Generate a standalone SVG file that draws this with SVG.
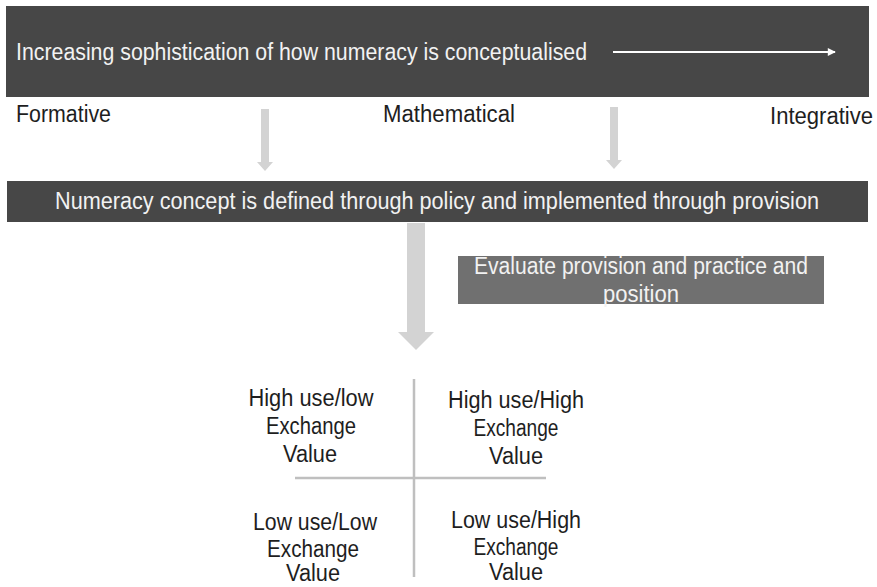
<svg xmlns="http://www.w3.org/2000/svg" width="877" height="587" viewBox="0 0 877 587">
<defs>
<style>
text{font-family:"Liberation Sans",Arial,sans-serif;font-size:23px;}
.dark{fill:#474747;}
.mid{fill:#707070;}
.wt{fill:#f2f2f2;}
.bt{fill:#1e1e1e;}
.mc{text-anchor:middle;}
.garrow{fill:#d3d3d3;}
.qline{stroke:#bfbfbf;stroke-width:2.5;fill:none;}
</style>
<marker id="wh" viewBox="0 0 10 10" refX="9" refY="5" markerWidth="5" markerHeight="4" orient="auto" markerUnits="strokeWidth">
<path d="M0,0 L10,5 L0,10 z" fill="#ffffff"/>
</marker>
</defs>
<rect width="877" height="587" fill="#ffffff"/>

<g id="top-box">
<rect class="dark" x="6" y="6" width="863" height="91"/>
<text class="wt" x="16" y="60" textLength="571" lengthAdjust="spacingAndGlyphs">Increasing sophistication of how numeracy is conceptualised</text>
</g>

<g id="label-formative">
<text class="bt" x="16" y="122" textLength="95" lengthAdjust="spacingAndGlyphs">Formative</text>
</g>
<g id="label-mathematical">
<text class="bt" x="383" y="122" textLength="132" lengthAdjust="spacingAndGlyphs">Mathematical</text>
</g>
<g id="label-integrative">
<text class="bt" x="770" y="124" textLength="103" lengthAdjust="spacingAndGlyphs">Integrative</text>
</g>

<g id="policy-box">
<rect class="dark" x="7" y="181" width="861" height="41"/>
<text class="wt mc" x="437" y="209" textLength="764" lengthAdjust="spacingAndGlyphs">Numeracy concept is defined through policy and implemented through provision</text>
</g>

<g id="evaluate-box">
<rect class="mid" x="458" y="256" width="366" height="48"/>
<text class="wt mc" x="641" y="274" textLength="334" lengthAdjust="spacingAndGlyphs">Evaluate provision and practice and</text>
<text class="wt mc" x="641" y="302" textLength="76" lengthAdjust="spacingAndGlyphs">position</text>
</g>

<g id="quadrant">
<line class="qline" x1="414" y1="379" x2="414" y2="577"/>
<line class="qline" x1="295" y1="478" x2="546" y2="478"/>
<g id="q-high-low">
<text class="bt mc" x="311" y="406" textLength="125" lengthAdjust="spacingAndGlyphs">High use/low</text>
<text class="bt mc" x="311" y="434" textLength="90" lengthAdjust="spacingAndGlyphs">Exchange</text>
<text class="bt mc" x="310" y="462" textLength="54" lengthAdjust="spacingAndGlyphs">Value</text>
</g>
<g id="q-high-high">
<text class="bt mc" x="516" y="408" textLength="136" lengthAdjust="spacingAndGlyphs">High use/High</text>
<text class="bt mc" x="516" y="436" textLength="85" lengthAdjust="spacingAndGlyphs">Exchange</text>
<text class="bt mc" x="516" y="464" textLength="54" lengthAdjust="spacingAndGlyphs">Value</text>
</g>
<g id="q-low-low">
<text class="bt mc" x="315" y="530" textLength="124" lengthAdjust="spacingAndGlyphs">Low use/Low</text>
<text class="bt mc" x="313" y="557" textLength="92" lengthAdjust="spacingAndGlyphs">Exchange</text>
<text class="bt mc" x="313" y="581" textLength="54" lengthAdjust="spacingAndGlyphs">Value</text>
</g>
<g id="q-low-high">
<text class="bt mc" x="516" y="528" textLength="130" lengthAdjust="spacingAndGlyphs">Low use/High</text>
<text class="bt mc" x="516" y="555" textLength="85" lengthAdjust="spacingAndGlyphs">Exchange</text>
<text class="bt mc" x="516" y="580" textLength="54" lengthAdjust="spacingAndGlyphs">Value</text>
</g>
</g>

<g id="connectors">
<line x1="613" y1="52" x2="835" y2="52" stroke="#ffffff" stroke-width="2" marker-end="url(#wh)"/>
<path class="garrow" d="M261,109 H269 V162 H273 L265,171 L257,162 H261 Z"/>
<path class="garrow" d="M610,107 H618 V160 H622 L614,169 L606,160 H610 Z"/>
<path class="garrow" d="M407,223 H425 V332 H434 L416,350 L398,332 H407 Z"/>
</g>
</svg>
